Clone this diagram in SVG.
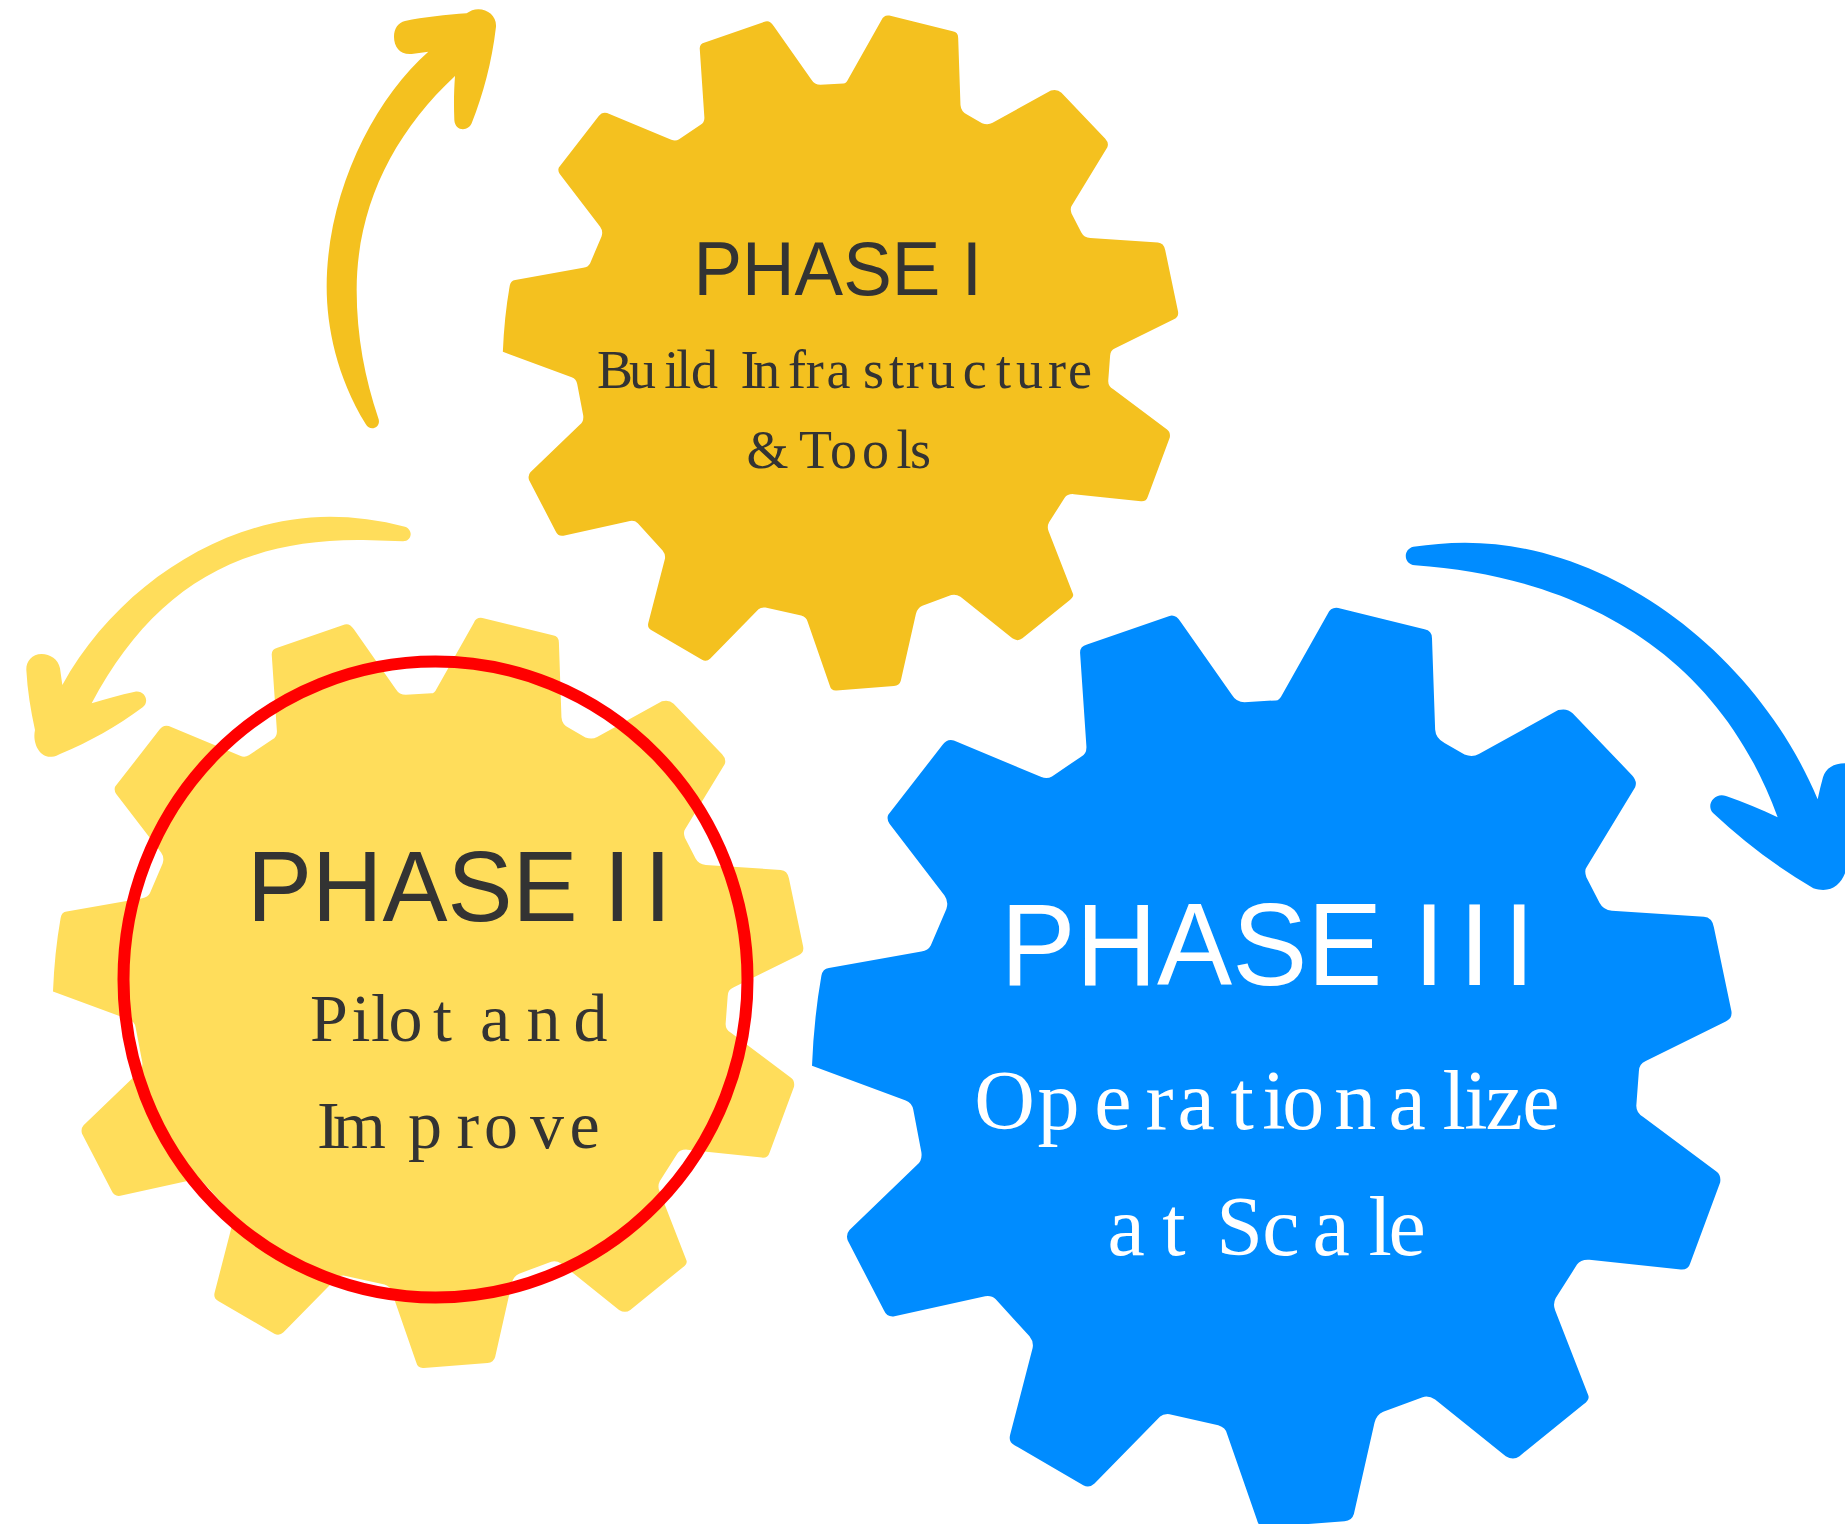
<svg xmlns="http://www.w3.org/2000/svg" width="1845" height="1524" viewBox="0 0 1845 1524">
<style>
.h{font-family:"Liberation Sans",Arial,sans-serif}
.b{font-family:"Liberation Serif","Times New Roman",serif}
.d{fill:#333333}
.w{fill:#ffffff}
</style>
<defs>
<path id="gear" d="M28 788 L178 845 Q188 849 190 860 L203 930 Q205 945 195 952 L88 1058 Q82 1065 85 1075 L143 1190 Q148 1202 160 1200 L305 1167 Q315 1165 322 1172 L376 1233 Q383 1242 381 1252 L345 1395 Q342 1407 352 1412 L462 1478 Q472 1483 480 1475 L585 1365 Q590 1360 600 1361 L678 1379 Q690 1383 692 1393 L740 1535 Q743 1548 755 1547 L880 1537 Q892 1536 895 1525 L928 1375 Q931 1362 942 1357 L1005 1333 Q1015 1330 1025 1337 L1138 1430 Q1150 1438 1160 1430 L1262 1345 Q1273 1337 1270 1330 L1217 1190 Q1213 1180 1218 1170 L1252 1115 Q1258 1106 1272 1107 L1418 1123 Q1430 1124 1433 1113 L1481 980 Q1483 968 1475 962 L1358 872 Q1346 865 1347 852 L1351 797 Q1351 785 1362 780 L1490 715 Q1501 710 1499 698 L1471 560 Q1468 544 1455 543 L1308 533 Q1294 532 1288 520 L1267 478 Q1263 466 1268 460 L1345 330 Q1349 320 1340 310 L1245 208 Q1236 199 1222 203 L1095 275 Q1085 281 1072 276 L1040 257 Q1026 250 1025 235 L1020 85 Q1020 72 1008 70 L870 35 Q858 33 853 45 L780 178 Q776 187 770 187 L720 190 Q707 190 700 178 L618 58 Q610 45 600 48 L468 95 Q456 98 457 110 L467 262 Q468 275 458 280 L412 312 Q404 317 395 313 L255 253 Q244 250 237 260 L150 375 Q147 382 152 390 L240 508 Q247 518 243 530 L218 590 Q214 598 203 600 L55 627 Q45 628 43 640 Q31 710 28 788 Z"/>
</defs>
<g id="connectors">
<path id="arrow-1" fill="#F4C11F" transform="translate(300 0) scale(.33333)" d="M197 1272 C110 1130 80 980 80 860 C80 580 220 300 385 155 L335 162 C300 165 282 140 282 110 C282 85 295 68 315 63 C370 52 440 44 500 40 C510 33 522 28 535 28 C565 28 590 50 588 80 C575 190 550 280 515 370 C505 395 465 395 463 360 C461 310 462 270 465 228 C280 400 170 620 170 870 C170 1010 195 1135 235 1255 C245 1280 212 1298 197 1272 Z"/>
<path id="arrow-2" fill="#FFDD5B" transform="translate(10 500) scale(.33333)" d="M1185 80 C1110 60 1030 50 960 50 C640 50 320 260 157 555 L150 505 C145 478 120 462 95 462 C65 462 48 485 49 510 C52 570 62 630 75 690 C66 730 90 775 125 770 C135 770 145 765 150 762 C240 725 320 680 398 622 C420 605 405 570 375 575 C330 585 285 597 245 610 C420 280 670 115 1060 120 L1178 124 C1205 125 1212 90 1185 80 Z"/>
<path id="arrow-3" fill="#008CFF" transform="translate(1390 520) scale(.33333)" d="M70 80 C120 73 170 68 225 68 C660 68 1100 400 1283 838 C1288 815 1293 793 1299 772 C1308 745 1330 730 1365 730 L1365 1060 C1350 1098 1320 1120 1270 1105 C1160 1040 1060 965 970 880 C945 855 975 815 1008 828 C1060 846 1115 868 1163 892 C985 400 570 170 75 136 C40 133 38 88 70 80 Z"/>
</g>
<g id="phase-1">
<use href="#gear" fill="#F4C11F" transform="matrix(.459 0 0 .4464 490 0)"/>
<text class="h d" font-size="76" transform="translate(693.5 295) scale(.958 1)">PHASE<tspan x="280">I</tspan></text>
<text class="b d" font-size="54" y="388" x="596.9 629 664.3 676.3 691 725 740.5 753 788 805.7 826.4 863 889 905.8 928 962.7 996 1016 1048 1068">Build Infrastructure</text>
<text class="b d" font-size="54" y="468" x="746.5 785 799 830 862 896.5 910">&amp; Tools</text>
</g>
<g id="phase-2">
<use href="#gear" fill="#FFDD5B" transform="matrix(.51 0 0 .496 38.7 600.6)"/>
<ellipse cx="435.5" cy="979.5" rx="312" ry="318" fill="none" stroke="#FF0000" stroke-width="12"/>
<text class="h d" font-size="100" transform="translate(247 920.5) scale(.975 1)">PHASE<tspan x="366">I</tspan><tspan x="407.5">I</tspan></text>
<text class="b d" font-size="68" y="1041" x="310 351.5 371 388.5 433 465 480 526.5 573.5">Pilot and</text>
<text class="b d" font-size="68" y="1148" x="317 333 408 456.5 484 530 569.5">Improve</text>
</g>
<g id="phase-3">
<use href="#gear" fill="#008CFF" transform="matrix(.625 0 0 .608 794.5 586.7)"/>
<text class="h w" font-size="116" transform="translate(1000.6 985) scale(.971 1)">PHASE<tspan x="425.3">I</tspan><tspan x="472.1">I</tspan><tspan x="518">I</tspan></text>
<text class="b w" font-size="84" y="1129" x="974.2 1037.5 1094.2 1145.5 1177.5 1230.5 1262.2 1282.2 1334.2 1388.5 1442.5 1464.2 1485.5 1522.2">Operationalize</text>
<text class="b w" font-size="84" y="1255" x="1107.5 1162.2 1195 1216.2 1262.2 1312.5 1368.5 1388.5">at Scale</text>
</g>
</svg>
